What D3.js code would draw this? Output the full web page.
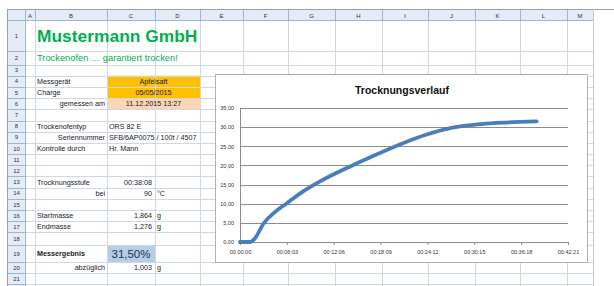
<!DOCTYPE html>
<html><head><meta charset="utf-8">
<script src="https://cdn.jsdelivr.net/npm/d3@7"></script>
<style>body{margin:0;background:#fff}svg{display:block;font-family:"Liberation Sans",Arial,sans-serif}</style>
</head><body><svg id="c" width="614" height="286"></svg>
<script>
// ---- chart data ----
const timeMin  = [0, 1.3, 1.95, 3.0, 4.5, 6.1, 8.2, 10.4, 14.3, 16.9, 20.8, 24.0, 27.3, 31.2, 34.4, 38.3];
const moisture = [0, 0, 1.0, 4.7, 7.8, 10.2, 13.3, 15.9, 19.8, 22.2, 25.6, 28.0, 29.8, 30.8, 31.2, 31.5];
const xTickLabels = ["00:00:00","00:06:03","00:12:06","00:18:09","00:24:12","00:30:15","00:36:18","00:42:21"];
const yTicks = [0, 5, 10, 15, 20, 25, 30, 35];
const chartTitle = "Trocknungsverlauf";
// ---- sheet content ----
const colLetters = ["A","B","C","D","E","F","G","H","I","J","K","L","M"];
const sheetTitle = "Mustermann GmbH";
const sheetSubtitle = "Trockenofen … garantiert trocken!";
const labelsLeft  = [[4,"Messgerät"],[5,"Charge"],[8,"Trockenofentyp"],[10,"Kontrolle durch"],[13,"Trocknungsstufe"],[16,"Startmasse"],[17,"Endmasse"],[19,"Messergebnis"]];
const labelsRight = [[6,"gemessen am"],[9,"Seriennummer"],[14,"bei"],[20,"abzüglich"]];
const valuesCenterCD = [[4,"Apfelsaft"],[5,"05/05/2015"],[6,"11.12.2015 13:27"]];
const valuesLeftC = [[8,"ORS 82 E"],[9,"SFB/6AP0075 / 100t / 4507"],[10,"Hr. Mann"]];
const valuesRightC = [[13,"00:38:08"],[14,"90"],[16,"1,864"],[17,"1,276"],[20,"1,003"]];
const unitsD = [[14,"°C"],[16,"g"],[17,"g"],[20,"g"]];
const resultText = "31,50%";

const svg = d3.select("#c");
// ---- sheet layout ----
const colEdges = [25,35,107,155,200,243,288,335,382,428,475,520,567,593];
const rowH = r => r===1?31 : r===2?13.5 : r===18?12.5 : r===19?17 : 11.2;
const rowTop = {}; let yy = 20;
for (let r = 1; r <= 23; r++) { rowTop[r] = yy; yy += rowH(r); }
const rowMid = r => rowTop[r] + rowH(r)/2;
const colL = c => colEdges[colLetters.indexOf(c)];
const colR = c => colEdges[colLetters.indexOf(c)+1];

// fills
svg.append("rect").attr("x",colL("C")).attr("y",rowTop[4]).attr("width",colR("D")-colL("C")).attr("height",rowTop[6]-rowTop[4]).attr("fill","#FFC000");
svg.append("rect").attr("x",colL("C")).attr("y",rowTop[6]).attr("width",colR("D")-colL("C")).attr("height",rowH(6)).attr("fill","#FCD5B4");
svg.append("rect").attr("x",colL("C")).attr("y",rowTop[19]).attr("width",colR("C")-colL("C")).attr("height",rowH(19)).attr("fill","#B8CCE4");

// gridlines
const g = svg.append("g").attr("stroke","#D0D7E5").attr("stroke-width",1).attr("shape-rendering","crispEdges");
colEdges.forEach(x => g.append("line").attr("x1",x).attr("x2",x).attr("y1",20).attr("y2",286));
Object.keys(rowTop).forEach(r => { const y = Math.round(rowTop[r]); if (y < 286) g.append("line").attr("x1",25).attr("x2",593).attr("y1",y).attr("y2",y); });
// headers
svg.append("rect").attr("x",8).attr("y",10).attr("width",585).attr("height",10).attr("fill","#E4ECF7");
svg.append("rect").attr("x",8).attr("y",20).attr("width",17).attr("height",266).attr("fill","#E4ECF7");
const hg = svg.append("g").attr("stroke","#9EB6CE").attr("shape-rendering","crispEdges");
hg.append("line").attr("x1",8).attr("x2",593).attr("y1",20).attr("y2",20);
hg.append("line").attr("x1",25).attr("x2",25).attr("y1",10).attr("y2",286);
colEdges.forEach(x => hg.append("line").attr("x1",x).attr("x2",x).attr("y1",10).attr("y2",20));
Object.keys(rowTop).forEach(r => { const y = Math.round(rowTop[r]); if (y<286) hg.append("line").attr("x1",8).attr("x2",25).attr("y1",y).attr("y2",y); });
svg.append("line").attr("x1",8).attr("x2",614).attr("y1",9.5).attr("y2",9.5).attr("stroke","#A0A0A0");
svg.append("line").attr("x1",7.5).attr("x2",7.5).attr("y1",9).attr("y2",286).attr("stroke","#A0A0A0");
svg.append("line").attr("x1",593.5).attr("x2",593.5).attr("y1",9).attr("y2",286).attr("stroke","#C8C8C8");
colLetters.forEach((c,i) => svg.append("text").attr("x",(colEdges[i]+colEdges[i+1])/2).attr("y",17.5).attr("text-anchor","middle").attr("font-size",6).attr("fill","#333").text(c));
for (let r = 1; r <= 22; r++) if (rowMid(r) < 286) svg.append("text").attr("x",16.5).attr("y",rowMid(r)+2).attr("text-anchor","middle").attr("font-size",6).attr("fill","#333").text(r);

// sheet text
svg.append("text").attr("x",37).attr("y",rowMid(1)+6).attr("font-size",17.4).attr("font-weight","bold").attr("fill","#00B050").text(sheetTitle);
svg.append("text").attr("x",37).attr("y",rowMid(2)+3.5).attr("font-size",9.3).attr("fill","#00B050").text(sheetSubtitle);
const txt = (x,r,t,anchor,opt={}) => svg.append("text").attr("x",x).attr("y",rowMid(r)+2.5).attr("text-anchor",anchor).attr("font-size",opt.size||7.2).attr("font-weight",opt.bold?"bold":"normal").attr("fill",opt.fill||"#1a1a1a").text(t);
labelsLeft.forEach(([r,t]) => txt(37,r,t,"start",{bold: r===19}));
labelsRight.forEach(([r,t]) => txt(105,r,t,"end"));
valuesCenterCD.forEach(([r,t]) => txt((colL("C")+colR("D"))/2,r,t,"middle"));
valuesLeftC.forEach(([r,t]) => txt(colL("C")+2,r,t,"start"));
valuesRightC.forEach(([r,t]) => txt(colR("C")-3,r,t,"end"));
unitsD.forEach(([r,t]) => txt(colL("D")+2,r,t,"start"));
svg.append("text").attr("x",(colL("C")+colR("C"))/2).attr("y",rowMid(19)+4).attr("text-anchor","middle").attr("font-size",11.5).attr("fill","#17375E").text(resultText);

// ---- chart ----
svg.append("rect").attr("x",215.5).attr("y",74.5).attr("width",372).attr("height",188).attr("fill","#fff").attr("stroke","#B0B0B0");
svg.append("text").attr("x",402).attr("y",94).attr("text-anchor","middle").attr("font-size",10.5).attr("font-weight","bold").attr("fill","#111").text(chartTitle);

const toMin = s => { const [h,m,sec] = s.split(":").map(Number); return h*60 + m + sec/60; };
const xTicks = xTickLabels.map(toMin);
const x = d3.scaleLinear().domain([0, d3.max(xTicks)]).range([240, 568]);
const y = d3.scaleLinear().domain([0, 35]).range([242, 108]);
const fmt = d3.format(".2f");

const yAxis = svg.append("g").attr("transform","translate(240,0)")
  .call(d3.axisLeft(y).tickValues(yTicks).tickSize(-(568-240)).tickFormat(d => fmt(d).replace(".",",")));
yAxis.select(".domain").remove();
yAxis.selectAll(".tick line").attr("stroke","#8C8C8C").attr("shape-rendering","crispEdges");
yAxis.selectAll("text").attr("font-size",5.5).attr("fill","#333").attr("x",-6);
svg.append("line").attr("x1",240).attr("x2",240).attr("y1",108).attr("y2",242).attr("stroke","#8C8C8C").attr("shape-rendering","crispEdges");

const xAxis = svg.append("g").attr("transform","translate(0,242)")
  .call(d3.axisBottom(x).tickValues(xTicks).tickSize(3).tickFormat((d,i) => xTickLabels[i]));
xAxis.select(".domain").attr("stroke","#8C8C8C").attr("shape-rendering","crispEdges");
xAxis.selectAll(".tick line").attr("stroke","#8C8C8C");
xAxis.selectAll("text").attr("font-size",5.5).attr("fill","#333").attr("dy","1em");

const pts = timeMin.map((t,i) => [t, moisture[i]]);
svg.append("path").datum(pts)
  .attr("d", d3.line().x(d => x(d[0])).y(d => y(d[1])).curve(d3.curveMonotoneX))
  .attr("fill","none").attr("stroke","#4A7EBB").attr("stroke-width",3.8).attr("stroke-linecap","round");
</script></body></html>
